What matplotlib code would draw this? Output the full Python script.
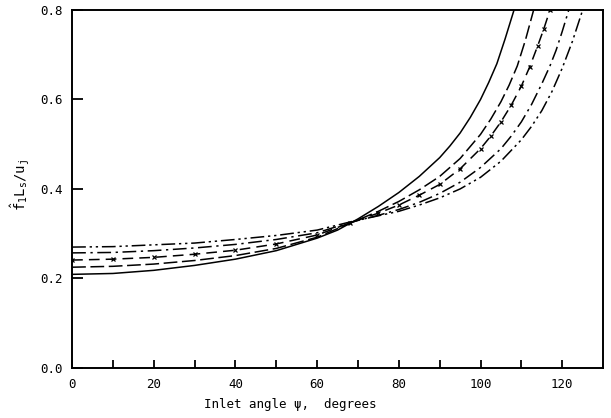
import numpy as np
import matplotlib
matplotlib.use("Agg")
import matplotlib.pyplot as plt

# curves (inlet angle in degrees, f1*Ls/uj)
x_solid = [0, 10, 20, 30, 40, 50, 60, 65, 70, 75, 80, 85, 90, 92.5, 95, 97.5,
           100, 102, 104, 106, 108.2]
y_solid = [0.209, 0.211, 0.218, 0.229, 0.243, 0.262, 0.290, 0.308, 0.333, 0.361,
           0.392, 0.428, 0.470, 0.496, 0.525, 0.560, 0.600, 0.638, 0.680, 0.735, 0.800]

x_dash = [0, 10, 20, 30, 40, 50, 60, 68, 75, 80, 85, 90, 95, 100, 102.5, 105,
          107, 109, 111, 113]
y_dash = [0.225, 0.227, 0.232, 0.240, 0.251, 0.267, 0.292, 0.323, 0.350, 0.372,
          0.398, 0.428, 0.468, 0.522, 0.556, 0.595, 0.632, 0.675, 0.733, 0.800]

x_dashx = [0, 10, 20, 30, 40, 50, 60, 68, 75, 80, 85, 90, 95, 100, 102.5, 105,
           107.5, 110, 112, 114, 115.5, 117]
y_dashx = [0.241, 0.243, 0.247, 0.254, 0.263, 0.277, 0.297, 0.324, 0.346, 0.364,
           0.386, 0.410, 0.445, 0.490, 0.518, 0.550, 0.587, 0.630, 0.672, 0.720,
           0.758, 0.800]

x_dashdot = [0, 10, 20, 30, 40, 50, 60, 68, 75, 80, 85, 90, 95, 100, 105, 107.5,
             110, 112.5, 115, 117, 118.5, 120, 121.6]
y_dashdot = [0.257, 0.258, 0.262, 0.268, 0.276, 0.287, 0.302, 0.325, 0.341, 0.354,
             0.370, 0.390, 0.415, 0.448, 0.490, 0.518, 0.550, 0.589, 0.635, 0.675,
             0.710, 0.752, 0.800]

x_dd = [0, 10, 20, 30, 40, 50, 60, 68, 75, 80, 85, 90, 95, 100, 105, 110, 112.5,
        115, 117.5, 120, 122.5, 125]
y_dd = [0.270, 0.271, 0.275, 0.279, 0.287, 0.296, 0.308, 0.326, 0.340, 0.350,
        0.364, 0.380, 0.400, 0.426, 0.462, 0.510, 0.540, 0.575, 0.618, 0.670,
        0.730, 0.800]

plt.rcParams['font.family'] = ['DejaVu Sans Mono']
plt.rcParams['mathtext.fontset'] = 'custom'
plt.rcParams['mathtext.rm'] = 'DejaVu Sans Mono'
plt.rcParams['mathtext.it'] = 'DejaVu Sans Mono'

fig = plt.figure(figsize=(6.11, 4.18), dpi=100)
ax = fig.add_axes([0.118, 0.12, 0.869, 0.856])

lw = 1.1
ax.plot(x_solid, y_solid, color='black', lw=lw)
ax.plot(x_dash, y_dash, color='black', lw=lw, dashes=(9, 3))
ax.plot(x_dashx, y_dashx, color='black', lw=lw, dashes=(7, 4),
        marker='x', markersize=2.5, markeredgewidth=0.9)
ax.plot(x_dashdot, y_dashdot, color='black', lw=lw, dashes=(9, 3, 1.5, 3))
ax.plot(x_dd, y_dd, color='black', lw=lw, dashes=(9, 2.5, 1.5, 2.5, 1.5, 2.5))

ax.set_xlim(0, 130)
ax.set_ylim(0, 0.8)
ax.set_xticks(np.arange(0, 130, 10), minor=True)
ax.set_xticks([0, 20, 40, 60, 80, 100, 120])
ax.set_yticks([0.0, 0.2, 0.4, 0.6, 0.8])
ax.set_yticklabels(['0.0', '0.2', '0.4', '0.6', '0.8'])
ax.tick_params(axis='both', which='both', direction='in', labelsize=9,
               width=1.3, top=False, right=False)
ax.tick_params(axis='x', which='major', length=6, pad=7)
ax.tick_params(axis='x', which='minor', length=6)
ax.tick_params(axis='y', which='major', length=8, pad=7)
for s in ax.spines.values():
    s.set_linewidth(1.4)

ax.set_xlabel('Inlet angle \u03c8,  degrees', fontsize=9)
ax.xaxis.set_label_coords(0.41, -0.085)
ax.set_ylabel('$\\hat{\\mathrm{f}}_\\mathrm{1}\\mathrm{L}_\\mathrm{s}/\\mathrm{u}_\\mathrm{j}$',
              fontsize=10)
ax.yaxis.set_label_coords(-0.075, 0.51)

fig.savefig('out.png', dpi=100)
